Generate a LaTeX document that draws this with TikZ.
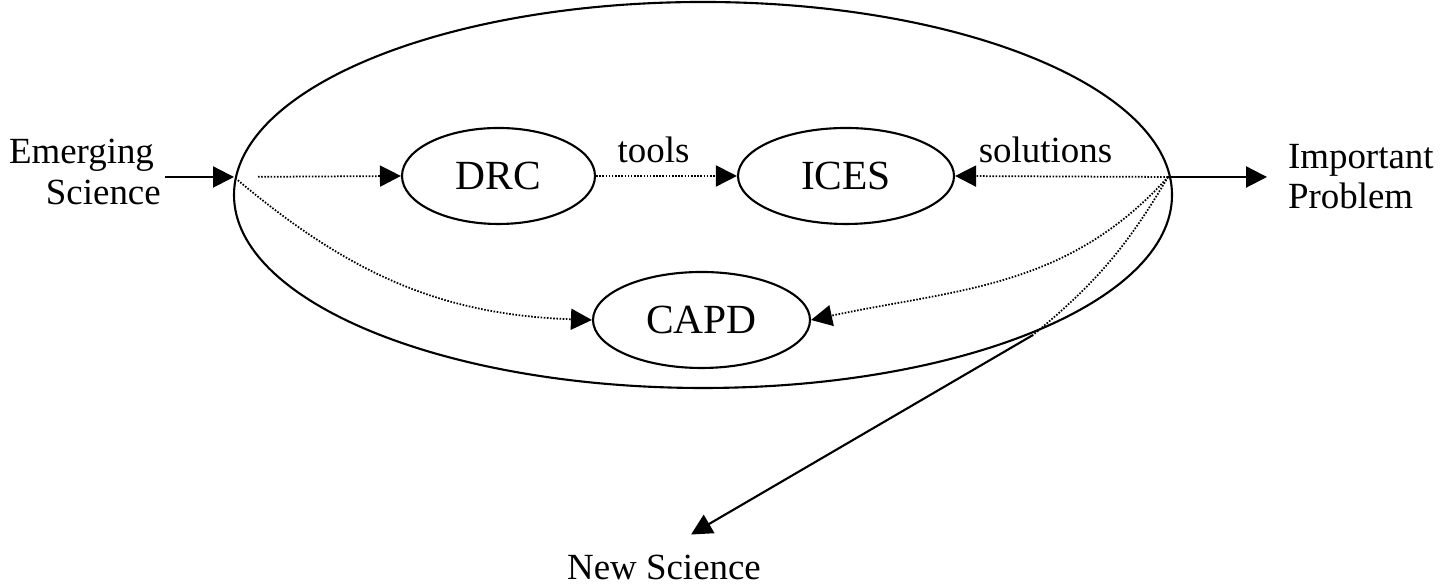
\documentclass[tikz,border=0pt]{standalone}
\usepackage{fontspec}
\setmainfont{Liberation Serif}
\usetikzlibrary{arrows.meta,shapes.geometric}

\begin{document}
\begin{tikzpicture}[line width=0.6pt,
  oval/.style={draw,ellipse,inner sep=0pt,minimum height=0.96cm},
  big/.style={font=\fontsize{11.8}{14}\selectfont},
  lbl/.style={font=\fontsize{10.5}{11.6}\selectfont,inner sep=0pt},
  arr/.style={-{Triangle[length=0.21cm,width=0.21cm]}},
  dots/.style={line width=0.5pt,dash pattern=on 0.45pt off 0.45pt}]
\useasboundingbox (0,0) rectangle (14.53,5.87);
\node[draw,ellipse,inner sep=0pt,minimum width=9.38cm,minimum height=3.86cm] (lab) at (7.03,3.92) {};
\node[oval,big,minimum width=1.93cm] (drc) at (4.985,4.11) {DRC};
\node[oval,big,minimum width=2.16cm] (ices) at (8.46,4.11) {ICES};
\node[oval,big,minimum width=2.17cm] (capd) at (7.015,2.67) {CAPD};
\node[lbl,align=left,anchor=north west] (es) at (0.08,4.49) {Emerging\\\hspace*{1em}Science};
\node[lbl,align=left,anchor=north west] (ip) at (12.87,4.44) {Important\\Problem};
\node[lbl,anchor=base,inner sep=0.2cm] (ns) at (6.64,0.07) {New Science};
\node[lbl,anchor=base] (tl) at (6.535,4.24) {tools};
\node[lbl,anchor=base] (sl) at (10.455,4.24) {solutions};
\coordinate (in) at (2.34,4.10);
\coordinate (out) at (11.68,4.10);
\coordinate (brk) at (10.33,2.52);
% into and out of the big oval
\draw[arr,shorten <=0.03cm] (es.east |- in) -- (in);
\draw[arr,shorten >=0.2cm] (out) -- (ip.west |- out);
% inside
\draw[dots,arr,shorten <=0.24cm] (in) -- (drc.west);
\draw[dots,arr] (drc.east) -- (ices.west);
\draw[dots,arr] (out) -- (ices.east);
\draw[dots,arr,shorten <=0.05cm] (in) to[out=-40,in=178] (capd.west);
\draw[dots,arr] (out) to[out=228,in=12] (capd.east);
\draw[dots] (out) to[bend left=10] (brk);
\draw[arr] (brk) -- ([xshift=0.27cm]ns.north);
\end{tikzpicture}
\end{document}
